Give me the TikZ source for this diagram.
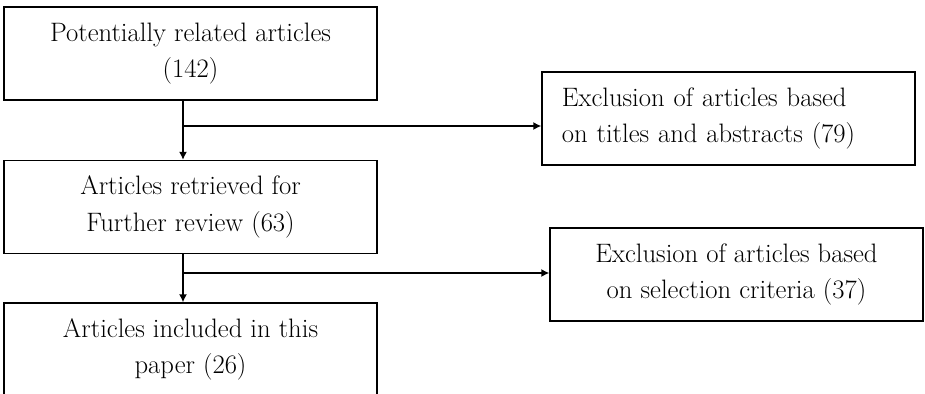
\documentclass[tikz,border=0pt]{standalone}
\usetikzlibrary{arrows.meta}
\begin{document}
\begin{tikzpicture}[x=0.75pt, y=-0.75pt, line width=1pt,
  box/.style={draw, rectangle, minimum width=279.75pt, minimum height=69.75pt,
    inner sep=0pt, align=center, font=\fontsize{20}{27.5}\selectfont},
  boxleft/.style={box, align=left, text width=250pt},
  arr/.style={-{Latex[length=6pt, width=6pt]}, line width=1.1pt}]

\useasboundingbox (0,0) rectangle (925,393);

\node[box] (found) at (190.5,53.5) {Potentially related articles\\(142)};
\node[box] (retrieved) at (190.5,207) {Articles retrieved for\\Further review (63)};
\node[box] (included) at (190.5,349.5) {Articles included in this\\paper (26)};
\node[boxleft] (excl1) at (728.5,118.5) {Exclusion of articles based\\on titles and abstracts (79)};
\node[box] (excl2) at (736.5,274.5) {Exclusion of articles based\\on selection criteria (37)};

\coordinate (split1) at (183,126);
\coordinate (split2) at (183,273);

\draw[arr] (found.south -| split1) -- (retrieved.north -| split1);
\draw[arr] (split1) -- (excl1.west |- split1);
\draw[arr] (retrieved.south -| split2) -- (included.north -| split2);
\draw[arr] (split2) -- (excl2.west |- split2);

\end{tikzpicture}
\end{document}
